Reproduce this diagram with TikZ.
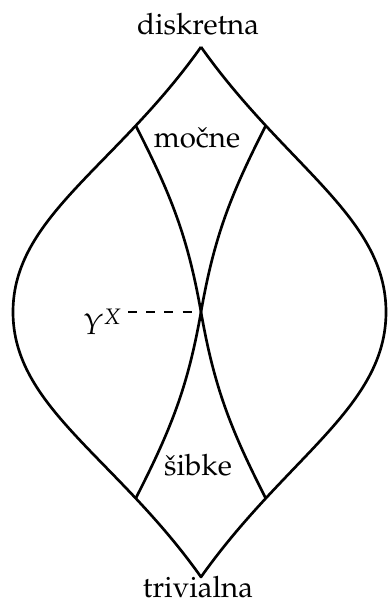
\documentclass[tikz,border=0pt]{standalone}
\usepackage[T1]{fontenc}
\usepackage{mathpazo}
\usepackage{tikz}
\usetikzlibrary{calc}

\begin{document}
\begin{tikzpicture}[x=0.34pt, y=0.34pt,
  edge/.style={line width=0.9pt, line join=round},
  lbl/.style={anchor=base, inner sep=0pt, font=\normalsize},
  guide/.style={dash pattern=on 3pt off 3.2pt, line width=0.5pt},
]
  \useasboundingbox (-201,-290) rectangle (186,312);

  % Points of the lens
  \coordinate (T) at (0,265);
  \coordinate (B) at (0,-265);
  \coordinate (L) at (-188,0);
  \coordinate (R) at (185,0);
  \coordinate (C) at (0,0);

  % Outer lens
  \draw[edge] (T) .. controls (-85,145) and (-188,95) .. (L) coordinate[pos=0.25] (UL)
              .. controls (-188,-95) and (-85,-145) .. (B) coordinate[pos=0.75] (LL)
              .. controls (85,-145) and (185,-95) .. (R) coordinate[pos=0.25] (LR)
              .. controls (185,95) and (85,145) .. (T) coordinate[pos=0.75] (UR);

  % Inner curves
  \draw[edge] (UL) to[out=-63, in=100] (C) to[out=-80, in=117] (LR);
  \draw[edge] (UR) to[out=-117, in=80] (C) to[out=-100, in=63] (LL);

  % Labels
  \node[lbl] (dis) at (-3,277) {diskretna};
  \node[lbl] (triv) at (-3,-285) {trivialna};
  \node[lbl] (mocne) at (-4,164) {mo\v{c}ne};
  \node[lbl] (sibke) at (-3,-163) {\v{s}ibke};
  \node[anchor=base east, inner sep=0pt] (yx) at (-78,-23) {$Y^X$};
  \coordinate (gl) at (-73,0);

  \draw[guide] (gl) -- (C);
\end{tikzpicture}
\end{document}
